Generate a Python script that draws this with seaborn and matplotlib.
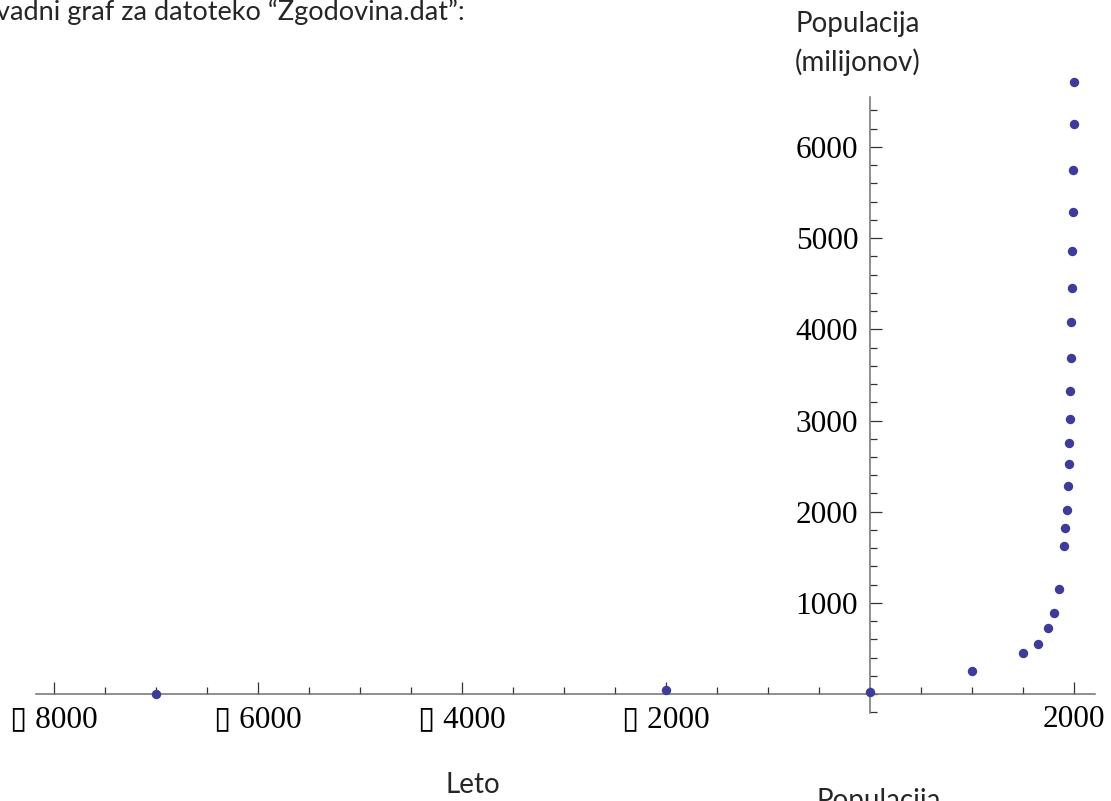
import matplotlib
matplotlib.use("Agg")
import matplotlib.pyplot as plt
from matplotlib.ticker import FixedLocator, MultipleLocator, FuncFormatter
import seaborn as sns
import pandas as pd

# world population by year (millions)
years = [-7000, -2000, 1, 1000, 1500, 1650, 1750, 1800, 1850, 1900, 1910,
         1927, 1940, 1950, 1955, 1960, 1965, 1970, 1975, 1980, 1985, 1990,
         1995, 2000, 2005]
population = [5, 50, 20, 255, 450, 555, 725, 885, 1155, 1620, 1820,
              2015, 2285, 2520, 2755, 3015, 3320, 3690, 4085, 4455, 4855, 5285,
              5745, 6245, 6715]

x_major = [-8000, -6000, -4000, -2000, 2000]
y_major = [1000, 2000, 3000, 4000, 5000, 6000]

df = pd.DataFrame({"Leto": years, "Populacija": population})

sns.set_style("white")
label_font = ["Lato", "DejaVu Sans"]
tick_font = ["Liberation Serif", "DejaVu Sans"]

fig = plt.figure(figsize=(11.11, 8.01), dpi=100)
ax = fig.add_axes([0.0324, 0.1096, 0.9532, 0.7697])

sns.scatterplot(data=df, x="Leto", y="Populacija", ax=ax, color="#3d3d99",
                s=46, linewidth=0, zorder=3, clip_on=False)

ax.set_xlim(-8176, 2206)
ax.set_ylim(-208, 6549)

# axes crossing at the origin, Mathematica style
for side in ["top", "right"]:
    ax.spines[side].set_visible(False)
ax.spines["left"].set_position(("data", 0))
ax.spines["bottom"].set_position(("data", 0))
for side in ["left", "bottom"]:
    ax.spines[side].set_color("#707070")
    ax.spines[side].set_linewidth(1.1)

ax.xaxis.set_major_locator(FixedLocator(x_major))
ax.xaxis.set_minor_locator(MultipleLocator(500))
ax.yaxis.set_major_locator(FixedLocator(y_major))
ax.yaxis.set_minor_locator(MultipleLocator(200))

# the minus sign shows up as a missing-glyph box in the original
ax.xaxis.set_major_formatter(FuncFormatter(
    lambda v, p: ("\u25af " + f"{abs(int(v))}") if v < 0 else f"{int(v)}"))
ax.yaxis.set_major_formatter(FuncFormatter(lambda v, p: f"{int(v)}"))

ax.tick_params(which="both", bottom=True, left=True, direction="in",
               color="#333333", width=0.9)
ax.tick_params(which="major", length=8.5)
ax.tick_params(which="minor", length=4.8)
ax.tick_params(axis="x", which="major", pad=8)
ax.tick_params(axis="y", which="major", pad=8.5)
for lab in ax.get_xticklabels() + ax.get_yticklabels():
    lab.set_fontfamily(tick_font)
    lab.set_fontsize(22.5)
    lab.set_color("black")

ax.set_xlabel("")
ax.set_ylabel("")

W, H = 1111, 801
fig.text(-4 / W, 1 - 12 / H, "vadni graf za datoteko \u201cZgodovina.dat\u201d:",
         ha="left", va="center", fontsize=19.5, family=label_font)
fig.text(858 / W, 1 - 24 / H, "Populacija", ha="center", va="center",
         fontsize=20, family=label_font)
fig.text(858 / W, 1 - 62 / H, "(milijonov)", ha="center", va="center",
         fontsize=20, family=label_font)
fig.text(473 / W, 1 - 785 / H, "Leto", ha="center", va="center",
         fontsize=20, family=label_font)
fig.text(879 / W, 1 - 788 / H, "Populacija", ha="center", va="top",
         fontsize=20, family=label_font)

fig.savefig("out.png", dpi=100)
plt.close(fig)
